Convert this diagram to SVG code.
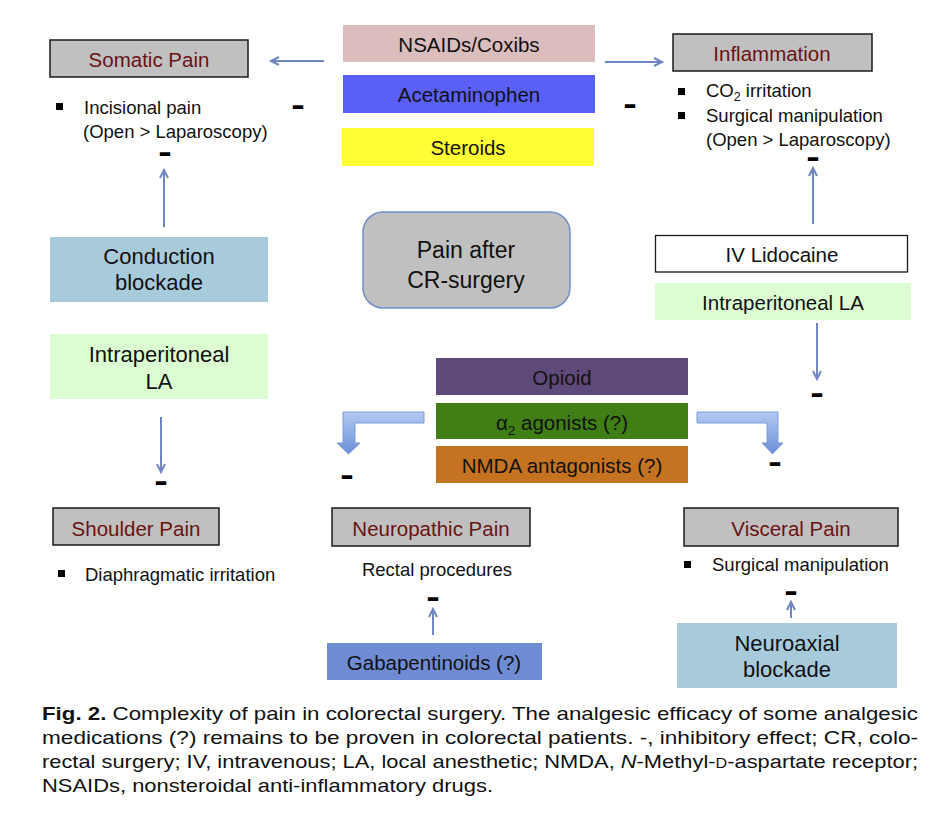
<svg xmlns="http://www.w3.org/2000/svg" width="946" height="817" viewBox="0 0 946 817">
<style>
text{font-family:"Liberation Sans",Arial,sans-serif;fill:#111}
.pain{fill:#c0c0c0;stroke:#1a1a1a;stroke-width:1.5}
.pt{font-size:20.5px;fill:#6b1212;text-anchor:middle}
.dt{font-size:20.5px;text-anchor:middle}
.d2{font-size:22px;text-anchor:middle}
.bt{font-size:18.5px}
.mn{font-size:14px;font-weight:bold;text-anchor:middle;stroke:#000;stroke-width:1.8}
.bul{fill:#000}
.cn{fill:none;stroke:#6f86c2;stroke-width:2}
.blk{fill:url(#bg);stroke:#7d9bd6;stroke-width:1}
.cap{font-size:19px}
</style>
<defs>
<marker id="ah" markerWidth="12" markerHeight="12" refX="9" refY="5" orient="auto" markerUnits="userSpaceOnUse">
<path d="M1,1 L9,5 L1,9" fill="none" stroke="#6f86c2" stroke-width="2"/>
</marker>
<linearGradient id="bg" x1="0" y1="0" x2="0" y2="1">
<stop offset="0" stop-color="#b3caf2"/>
<stop offset="1" stop-color="#6a8fd8"/>
</linearGradient>
</defs>
<rect width="946" height="817" fill="#fff"/>

<g id="connectors">
<line class="cn" x1="324" y1="61" x2="271" y2="61" marker-end="url(#ah)"/>
<line class="cn" x1="605" y1="62" x2="662" y2="62" marker-end="url(#ah)"/>
<line class="cn" x1="164" y1="227" x2="164" y2="170" marker-end="url(#ah)"/>
<line class="cn" x1="161" y1="417" x2="161" y2="472" marker-end="url(#ah)"/>
<line class="cn" x1="813" y1="224" x2="813" y2="168" marker-end="url(#ah)"/>
<line class="cn" x1="817" y1="323" x2="817" y2="379" marker-end="url(#ah)"/>
<line class="cn" x1="433" y1="635" x2="433" y2="609" marker-end="url(#ah)"/>
<line class="cn" x1="791" y1="618" x2="791" y2="602" marker-end="url(#ah)"/>
<path class="blk" d="M424,412 L343,412 L343,443 L337,443 L348.5,454 L360,443 L355,443 L355,423 L424,423 Z"/>
<path class="blk" d="M697,412 L778,412 L778,443 L783,443 L772.5,454 L762,443 L767,443 L767,423 L697,423 Z"/>
</g>

<g id="minus">
<text class="mn" x="298" y="111" textLength="9" lengthAdjust="spacingAndGlyphs">-</text>
<text class="mn" x="630" y="110" textLength="9" lengthAdjust="spacingAndGlyphs">-</text>
<text class="mn" x="165" y="158" textLength="9" lengthAdjust="spacingAndGlyphs">-</text>
<text class="mn" x="813" y="163" textLength="9" lengthAdjust="spacingAndGlyphs">-</text>
<text class="mn" x="817" y="399" textLength="9" lengthAdjust="spacingAndGlyphs">-</text>
<text class="mn" x="161" y="487" textLength="9" lengthAdjust="spacingAndGlyphs">-</text>
<text class="mn" x="347" y="481" textLength="9" lengthAdjust="spacingAndGlyphs">-</text>
<text class="mn" x="775" y="468" textLength="9" lengthAdjust="spacingAndGlyphs">-</text>
<text class="mn" x="433" y="603" textLength="9" lengthAdjust="spacingAndGlyphs">-</text>
<text class="mn" x="791" y="597" textLength="9" lengthAdjust="spacingAndGlyphs">-</text>
</g>

<g id="somatic">
<rect class="pain" x="50" y="40" width="198" height="37"/>
<text class="pt" x="149" y="67">Somatic Pain</text>
<rect class="bul" x="56" y="103" width="7" height="7"/>
<text class="bt" x="84" y="114">Incisional pain</text>
<text class="bt" x="83" y="138">(Open &gt; Laparoscopy)</text>
</g>

<g id="inflammation">
<rect class="pain" x="673" y="34" width="199" height="37"/>
<text class="pt" x="772" y="61" font-size="21.5">Inflammation</text>
<rect class="bul" x="678" y="88" width="7" height="7"/>
<text class="bt" x="706" y="97">CO<tspan font-size="12.5" dy="4">2</tspan><tspan dy="-4"> irritation</tspan></text>
<rect class="bul" x="678" y="112" width="7" height="7"/>
<text class="bt" x="706" y="122">Surgical manipulation</text>
<text class="bt" x="706" y="146">(Open &gt; Laparoscopy)</text>
</g>

<g id="nsaids">
<rect x="343" y="25" width="252" height="37" fill="#dbbdbd"/>
<text class="dt" x="469" y="52" font-size="19.5">NSAIDs/Coxibs</text>
</g>
<g id="acetaminophen">
<rect x="343" y="75" width="252" height="38" fill="#5a5ff8"/>
<text class="dt" x="469" y="102" font-size="21">Acetaminophen</text>
</g>
<g id="steroids">
<rect x="342" y="128" width="252" height="38" fill="#ffff33"/>
<text class="dt" x="468" y="155" font-size="20">Steroids</text>
</g>

<g id="center">
<rect x="363" y="212" width="207" height="96" rx="20" fill="#c0c0c0" stroke="#6f8fc9" stroke-width="1.5"/>
<text x="466" y="258" font-size="23" fill="#6b1212" text-anchor="middle">Pain after</text>
<text x="466" y="288" font-size="23" fill="#6b1212" text-anchor="middle">CR-surgery</text>
</g>

<g id="conduction">
<rect x="50" y="237" width="218" height="65" fill="#a8cbdc"/>
<text class="d2" x="159" y="264">Conduction</text>
<text class="d2" x="159" y="290">blockade</text>
</g>

<g id="ipla-left">
<rect x="50" y="334" width="218" height="65" fill="#dcfdd2"/>
<text class="d2" x="159" y="362">Intraperitoneal</text>
<text class="d2" x="159" y="389">LA</text>
</g>

<g id="lidocaine">
<rect x="655.5" y="235.5" width="252" height="36.5" fill="#fff" stroke="#1a1a1a" stroke-width="1.3"/>
<text class="dt" x="782" y="262">IV Lidocaine</text>
</g>
<g id="ipla-right">
<rect x="655" y="283" width="256" height="37" fill="#dcfdd2"/>
<text class="dt" x="783" y="310" font-size="21.5">Intraperitoneal LA</text>
</g>

<g id="opioid">
<rect x="436" y="358" width="252" height="37" fill="#5e4a7a"/>
<text class="dt" x="562" y="385" font-size="21">Opioid</text>
</g>
<g id="alpha2">
<rect x="436" y="403" width="252" height="36" fill="#3f7f15"/>
<text class="dt" x="562" y="430" font-size="21">α<tspan font-size="13.5" dy="5">2</tspan><tspan dy="-5"> agonists (?)</tspan></text>
</g>
<g id="nmda">
<rect x="436" y="446" width="252" height="37" fill="#c67321"/>
<text class="dt" x="562" y="473" font-size="21">NMDA antagonists (?)</text>
</g>

<g id="shoulder">
<rect class="pain" x="53" y="508" width="166" height="37"/>
<text class="pt" x="136" y="536">Shoulder Pain</text>
<rect class="bul" x="58" y="570" width="7" height="7"/>
<text class="bt" x="85" y="581">Diaphragmatic irritation</text>
</g>

<g id="neuropathic">
<rect class="pain" x="332" y="508" width="198" height="38"/>
<text class="pt" x="431" y="536" font-size="21">Neuropathic Pain</text>
<text class="bt" x="437" y="576" text-anchor="middle" font-size="18">Rectal procedures</text>
</g>

<g id="gabapentinoids">
<rect x="327" y="643" width="215" height="37" fill="#6f8bd4"/>
<text class="dt" x="434" y="670">Gabapentinoids (?)</text>
</g>

<g id="visceral">
<rect class="pain" x="684" y="508" width="214" height="38"/>
<text class="pt" x="791" y="536">Visceral Pain</text>
<rect class="bul" x="684" y="561" width="7" height="7"/>
<text class="bt" x="712" y="571">Surgical manipulation</text>
</g>

<g id="neuroaxial">
<rect x="677" y="623" width="220" height="65" fill="#a8cbdc"/>
<text class="d2" x="787" y="651">Neuroaxial</text>
<text class="d2" x="787" y="677">blockade</text>
</g>

<g id="caption">
<text class="cap" x="42" y="720" textLength="876" lengthAdjust="spacingAndGlyphs"><tspan font-weight="bold">Fig. 2.</tspan> Complexity of pain in colorectal surgery. The analgesic efficacy of some analgesic</text>
<text class="cap" x="42" y="744" textLength="876" lengthAdjust="spacingAndGlyphs">medications (?) remains to be proven in colorectal patients. -, inhibitory effect; CR, colo-</text>
<text class="cap" x="42" y="768" textLength="876" lengthAdjust="spacingAndGlyphs">rectal surgery; IV, intravenous; LA, local anesthetic; NMDA, <tspan font-style="italic">N</tspan>-Methyl-<tspan font-size="14">D</tspan>-aspartate receptor;</text>
<text class="cap" x="42" y="792" textLength="451" lengthAdjust="spacingAndGlyphs">NSAIDs, nonsteroidal anti-inflammatory drugs.</text>
</g>
</svg>
